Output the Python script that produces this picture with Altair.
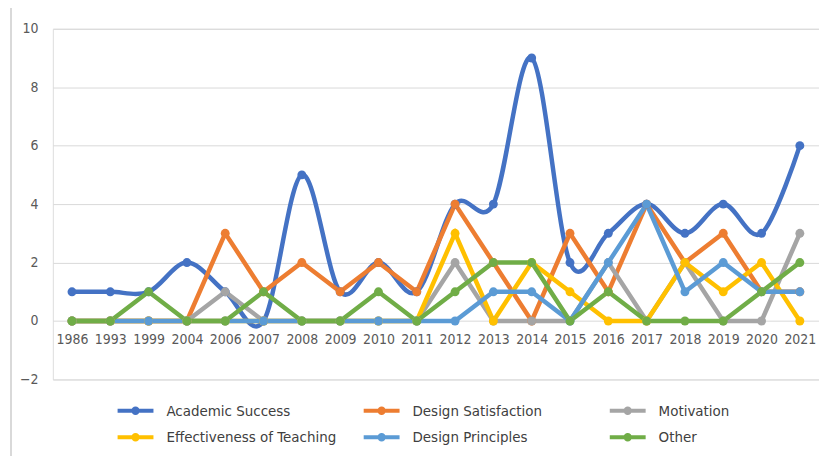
import altair as alt
import pandas as pd

years = ["1986", "1993", "1999", "2004", "2006", "2007", "2008", "2009", "2010", "2011",
         "2012", "2013", "2014", "2015", "2016", "2017", "2018", "2019", "2020", "2021"]
academic_success = [1, 1, 1, 2, 1, 0, 5, 1, 2, 1, 4, 4, 9, 2, 3, 4, 3, 4, 3, 6]
design_satisfaction = [0, 0, 0, 0, 3, 1, 2, 1, 2, 1, 4, 2, 0, 3, 1, 4, 2, 3, 1, 1]
motivation = [0, 0, 0, 0, 1, 0, 0, 0, 0, 0, 2, 0, 0, 0, 2, 0, 2, 0, 0, 3]
effectiveness = [0, 0, 0, 0, 0, 0, 0, 0, 0, 0, 3, 0, 2, 1, 0, 0, 2, 1, 2, 0]
design_principles = [0, 0, 0, 0, 0, 0, 0, 0, 0, 0, 0, 1, 1, 0, 2, 4, 1, 2, 1, 1]
other = [0, 0, 1, 0, 0, 1, 0, 0, 1, 0, 1, 2, 2, 0, 1, 0, 0, 0, 1, 2]

series_names = ["Academic Success", "Design Satisfaction", "Motivation",
                "Effectiveness of Teaching", "Design Principles", "Other"]
series_values = [academic_success, design_satisfaction, motivation,
                 effectiveness, design_principles, other]
colors = ["#4472C4", "#ED7D31", "#A5A5A5", "#FFC000", "#5B9BD5", "#70AD47"]

# legend fills column by column (2 rows x 3 columns)
legend_order = [0, 3, 1, 4, 2, 5]
legend_domain = [series_names[k] for k in legend_order]
legend_range = [colors[k] for k in legend_order]

rows = []
for si, (name, vals) in enumerate(zip(series_names, series_values)):
    for yi, (yr, v) in enumerate(zip(years, vals)):
        rows.append({"Year": yr, "Value": v, "Series": name, "s": si, "i": yi})
df = pd.DataFrame(rows)

FONT = "Liberation Sans Narrow, DejaVu Sans Condensed, Roboto, sans-serif"

legend_symbol = ("M-1.8,0L1.8,0M-0.22,0A0.22,0.22 0 1 1 0.22,0"
                 "A0.22,0.22 0 1 1 -0.22,0")

color = alt.Color(
    "Series:N",
    scale=alt.Scale(domain=legend_domain, range=legend_range),
    legend=alt.Legend(
        title=None, orient="none", legendX=71, legendY=371, columns=3,
        gridAlign="all", columnPadding=19, rowPadding=4, labelLimit=400,
        symbolType=legend_symbol, symbolSize=400, symbolStrokeWidth=4,
        labelOffset=19, labelFontSize=15, labelFont=FONT, labelColor="#404040",
        symbolOpacity=1,
    ),
)

x = alt.X(
    "Year:O", sort=years, title=None,
    scale=alt.Scale(type="point", padding=0.5),
    axis=alt.Axis(labelAngle=0, domain=False, ticks=False, offset=-58.7,
                  labelPadding=12, labelFontSize=14, labelFont=FONT,
                  labelColor="#595959", grid=False),
)
y = alt.Y(
    "Value:Q", title=None,
    scale=alt.Scale(domain=[-2, 10], nice=False, zero=False),
    axis=alt.Axis(values=[-2, 0, 2, 4, 6, 8, 10], domain=False, ticks=False,
                  labelPadding=15, labelFontSize=14, labelFont=FONT,
                  labelColor="#595959", gridColor="#D9D9D9", gridWidth=1),
)

base = alt.Chart(df)

academic_line = base.transform_filter(
    alt.datum.Series == "Academic Success"
).mark_line(interpolate="cardinal", strokeWidth=4.5).encode(
    x=x, y=y, color=color, order="i:Q"
)
other_lines = base.transform_filter(
    alt.datum.Series != "Academic Success"
).mark_line(strokeWidth=4.5).encode(
    x=x, y=y, color=color, order="i:Q", detail="s:O"
)
points = base.mark_point(filled=True, size=80, opacity=1).encode(
    x=x, y=y, color=color
)
border = alt.Chart(pd.DataFrame({"a": [0]})).mark_rule(
    color="#D9D9D9", strokeWidth=2
).encode(x=alt.value(-42), y=alt.value(-28), y2=alt.value(429))

chart = alt.layer(border, academic_line, other_lines, points).properties(
    width=769, height=352,
    autosize=alt.AutoSizeParams(type="none"),
    padding={"left": 45, "top": 20, "right": 0, "bottom": 76},
).configure_view(stroke=None).configure(font=FONT)

chart.save("out.html", embed_options={"renderer": "svg", "actions": False})
